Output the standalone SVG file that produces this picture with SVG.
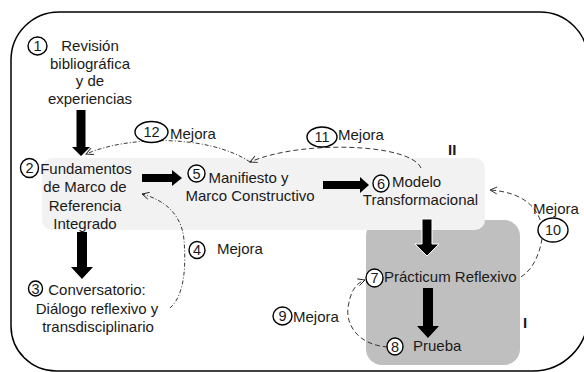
<svg xmlns="http://www.w3.org/2000/svg" width="584" height="372" viewBox="0 0 584 372">
  <defs>
    <style>
      text { font-family: "Liberation Sans", Arial, sans-serif; font-size: 15px; fill: #1a1a1a; }
      .c { text-anchor: middle; }
      .num { text-anchor: middle; font-size: 14.5px; }
      .ring { fill: #ffffff; stroke: #000000; stroke-width: 1.4; }
      .block { fill: #000000; }
      .loop { fill: none; stroke: #222222; stroke-width: 0.9; }
      .dashdot { stroke-dasharray: 4 2 1 2; }
      .dash { stroke-dasharray: 5 3; }
      .roman { font-weight: bold; font-size: 15px; }
    </style>
    <marker id="open" markerUnits="userSpaceOnUse" markerWidth="10" markerHeight="10" viewBox="-8 -5 10 10" refX="0" refY="0" orient="auto">
      <path d="M-7,-3.5 L0,0 L-7,3.5" fill="none" stroke="#222222" stroke-width="0.9"/>
    </marker>
  </defs>

  <!-- outer frame -->
  <path d="M11,60 A48,48 0 0 1 59,12 H540 A48,48 0 0 1 588,60 V316 A55,55 0 0 1 533,371 H56 A45,45 0 0 1 11,326 Z" fill="#ffffff" stroke="#000000" stroke-width="1.5"/>

  <!-- stage I (dark panel) and stage II (light panel) -->
  <rect id="stage-I" x="366" y="220" width="154" height="145" rx="16" ry="16" fill="#bfbfbf"/>
  <rect id="stage-II" x="42" y="158" width="443" height="72" rx="10" ry="10" fill="#f2f2f2"/>
  <text class="roman" x="448" y="155">II</text>
  <text class="roman" x="523" y="328">I</text>

  <!-- connectors -->
  <g id="connectors">
    <!-- solid block arrows -->
    <polygon class="block" points="76.5,110 85.5,110 85.5,147 90,147 81,156 72,147 76.5,147"/>
    <polygon class="block" points="77,232 87,232 87,267 93,267 82,279 71,267 77,267"/>
    <polygon class="block" points="142,174 172,174 172,170 182,178 172,186 172,182 142,182"/>
    <polygon class="block" points="323,181 360,181 360,177 369,185 360,193 360,189 323,189"/>
    <polygon class="block" points="422,219 432,219 432,244 439,244 427,256 415,244 422,244" stroke="#ffffff" stroke-width="1"/>
    <polygon class="block" points="423,288 433,288 433,326 439,326 428,338 417,326 423,326"/>

    <!-- feedback loops -->
    <path class="loop dash" d="M421,168 C410,143 300,140 250,162" marker-end="url(#open)"/>
    <path class="loop dashdot" d="M250,162 C210,135 130,135 86,154" marker-end="url(#open)"/>
    <path class="loop dashdot" d="M170,308 C185,295 186,265 184,240 C182,215 165,200 142,194" marker-end="url(#open)"/>
    <path class="loop dash" d="M521,277 C535,268 541,250 543,232 C540,205 520,192 490,190" marker-end="url(#open)"/>
    <path class="loop dash" d="M388,347 C358,345 346,325 348,308 C350,292 356,283 365,280" marker-end="url(#open)"/>
  </g>

  <!-- 1 -->
  <g id="n1">
    <ellipse class="ring" cx="37.5" cy="46" rx="9.5" ry="9"/>
    <text class="num" x="37.5" y="51">1</text>
    <text class="c" x="90" y="51">Revisión</text>
    <text class="c" x="90" y="68.5">bibliográfica</text>
    <text class="c" x="90" y="86">y de</text>
    <text class="c" x="90" y="103.5">experiencias</text>
  </g>

  <!-- 2 -->
  <g id="n2">
    <ellipse class="ring" cx="29.5" cy="168" rx="9" ry="9.5"/>
    <text class="num" x="29.5" y="173">2</text>
    <text class="c" x="86" y="173.5">Fundamentos</text>
    <text class="c" x="85" y="192">de Marco de</text>
    <text class="c" x="85" y="210.5">Referencia</text>
    <text class="c" x="85" y="229">Integrado</text>
  </g>

  <!-- 3 -->
  <g id="n3">
    <ellipse class="ring" cx="35.5" cy="288.5" rx="7" ry="7.5"/>
    <text class="num" x="35.5" y="293.5">3</text>
    <text class="c" x="97" y="295">Conversatorio:</text>
    <text class="c" x="97" y="313.5">Diálogo reflexivo y</text>
    <text class="c" x="98" y="332">transdisciplinario</text>
  </g>

  <!-- 4 -->
  <g id="n4">
    <ellipse class="ring" cx="197" cy="250" rx="8" ry="8.5"/>
    <text class="num" x="197" y="255">4</text>
    <text x="217" y="253.5">Mejora</text>
  </g>

  <!-- 5 -->
  <g id="n5">
    <ellipse class="ring" cx="196.5" cy="173.5" rx="8.5" ry="8.5"/>
    <text class="num" x="196.5" y="178.5">5</text>
    <text class="c" x="248.5" y="183">Manifiesto y</text>
    <text class="c" x="250" y="200.5">Marco Constructivo</text>
  </g>

  <!-- 6 -->
  <g id="n6">
    <ellipse class="ring" cx="381" cy="183.5" rx="8" ry="8.5"/>
    <text class="num" x="381" y="188.5">6</text>
    <text x="392" y="187">Modelo</text>
    <text class="c" x="420.5" y="205">Transformacional</text>
  </g>

  <!-- 7 -->
  <g id="n7">
    <ellipse class="ring" cx="374.5" cy="278" rx="8.5" ry="9"/>
    <text class="num" x="374.5" y="283">7</text>
    <text x="384" y="282">Prácticum Reflexivo</text>
  </g>

  <!-- 8 -->
  <g id="n8">
    <ellipse class="ring" cx="395" cy="346.5" rx="8" ry="8.5"/>
    <text class="num" x="395" y="351.5">8</text>
    <text x="413" y="351">Prueba</text>
  </g>

  <!-- 9 -->
  <g id="n9">
    <ellipse class="ring" cx="282.5" cy="316" rx="9.5" ry="9"/>
    <text class="num" x="282.5" y="321">9</text>
    <text x="293" y="322">Mejora</text>
  </g>

  <!-- 10 -->
  <g id="n10">
    <text x="533" y="214">Mejora</text>
    <ellipse class="ring" cx="553" cy="230" rx="15" ry="12"/>
    <text class="num" x="553" y="235">10</text>
  </g>

  <!-- 11 -->
  <g id="n11">
    <ellipse class="ring" cx="322" cy="137" rx="15" ry="10"/>
    <text class="num" x="322" y="142">11</text>
    <text x="338" y="140">Mejora</text>
  </g>

  <!-- 12 -->
  <g id="n12">
    <ellipse class="ring" cx="151.5" cy="132" rx="16.5" ry="10.5"/>
    <text class="num" x="151.5" y="137">12</text>
    <text x="170" y="139">Mejora</text>
  </g>
</svg>
